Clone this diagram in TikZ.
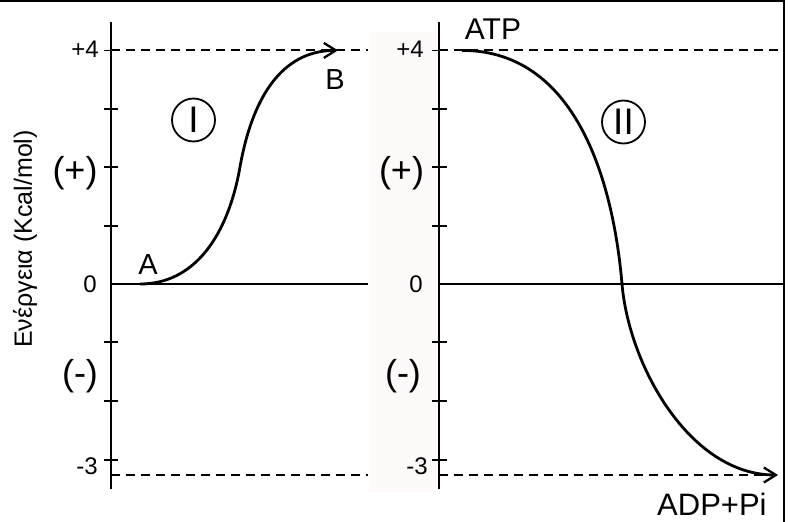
\documentclass[tikz,border=0pt]{standalone}
\usepackage{fontspec}
\setmainfont{Liberation Sans}
\usetikzlibrary{arrows.meta}
\definecolor{bgpink}{RGB}{254,250,250}
\begin{document}
\begin{tikzpicture}[x=1pt,y=-1pt,
  axisline/.style={line width=2pt},
  tickline/.style={line width=1.8pt},
  guide/.style={line width=2pt, dash pattern=on 9pt off 6pt},
  zeroline/.style={line width=1.6pt},
  curveline/.style={line width=2.8pt, -{Straight Barb[length=12pt,width=15pt,line width=2.3pt]}},
  numlbl/.style={font=\fontsize{24}{24}\selectfont, anchor=east, inner sep=0pt},
  signlbl/.style={font=\fontsize{36}{36}\selectfont, inner sep=0pt},
  ptlbl/.style={font=\fontsize{29}{29}\selectfont, inner sep=0pt},
  roman/.style={draw, circle, line width=1.8pt, minimum size=43pt, inner sep=0pt, font=\fontsize{37}{37}\selectfont},
  frameline/.style={line width=2pt}
]
\useasboundingbox (0,0) rectangle (790,522);
\clip (0,0) rectangle (790,522);
\fill[bgpink] (369,32) rectangle (437,492);

% frame
\coordinate (F1) at (0,1);
\coordinate (F2) at (783.5,1);
\coordinate (F3) at (783.5,522);
\draw[frameline] (F1) -- (F2) -- (F3);

% ---------- left panel ----------
\coordinate (L0) at (111,22);
\coordinate (L1) at (111,489);
\draw[axisline] (L0) -- (L1);
\foreach \yy in {50.4,109,167,226,342,401,460}
  \draw[tickline] (104,\yy) -- (118,\yy);
\coordinate (Lp4a) at (111,50.4);
\coordinate (Lp4b) at (368,50.4);
\coordinate (Lza) at (111,284);
\coordinate (Lzb) at (368,284);
\coordinate (Lm3a) at (111,475);
\coordinate (Lm3b) at (368,475);
\draw[guide] (Lp4a) -- (Lp4b);
\draw[zeroline] (Lza) -- (Lzb);
\draw[guide] (Lm3a) -- (Lm3b);

\node[numlbl] (lp4) at (99,49) {+4};
\node[numlbl] (lz) at (97,284) {0};
\node[numlbl] (lm3) at (98,466) {-3};
\node[signlbl] (lplus) at (75,173) {(+)};
\node[signlbl] (lminus) at (80,376) {(-)};
\node[font=\fontsize{25}{25}\selectfont, rotate=90, inner sep=0pt] (ylab) at (25,239) {Ενέργεια (Kcal/mol)};

\node[roman] (c1) at (193.5,120) {I};
\node[ptlbl] (la) at (148,265) {A};
\node[ptlbl] (lb) at (335,80) {B};
\coordinate (Astart) at (140,284);
\coordinate (Bend) at (338,50.4);
\draw[curveline] (Astart) .. controls (195,284) and (228,235) .. (240,167)
  .. controls (252,99) and (281,50.4) .. (Bend);

% ---------- right panel ----------
\coordinate (R0) at (439.3,22);
\coordinate (R1) at (439.3,489);
\draw[axisline] (R0) -- (R1);
\foreach \yy in {50.4,109,167,226,342,401,460}
  \draw[tickline] (432,\yy) -- (447,\yy);
\coordinate (Rp4a) at (439.3,50.4);
\coordinate (Rp4b) at (783,50.4);
\coordinate (Rza) at (439.3,284);
\coordinate (Rzb) at (783,284);
\coordinate (Rm3a) at (439.3,475);
\coordinate (Rm3b) at (775,475);
\draw[guide] (Rp4a) -- (Rp4b);
\draw[zeroline] (Rza) -- (Rzb);
\draw[guide] (Rm3a) -- (Rm3b);

\node[numlbl] (rp4) at (424,49) {+4};
\node[numlbl] (rz) at (423,284) {0};
\node[numlbl] (rm3) at (428,466) {-3};
\node[signlbl] (rplus) at (401.5,173) {(+)};
\node[signlbl] (rminus) at (403,376) {(-)};

\node[roman] (c2) at (623.5,122) {II};
\node[font=\fontsize{30}{30}\selectfont, inner sep=0pt] (atp) at (493,29) {ATP};
\node[font=\fontsize{31}{31}\selectfont, inner sep=0pt, anchor=base west] (adp) at (657,515) {ADP+Pi};
\coordinate (ATPstart) at (462,50.4);
\coordinate (ADPend) at (778,475);
\draw[curveline] (ATPstart) .. controls (580,50.4) and (614,190) .. (622,284)
  .. controls (629,366) and (690,475) .. (ADPend);
\end{tikzpicture}
\end{document}
